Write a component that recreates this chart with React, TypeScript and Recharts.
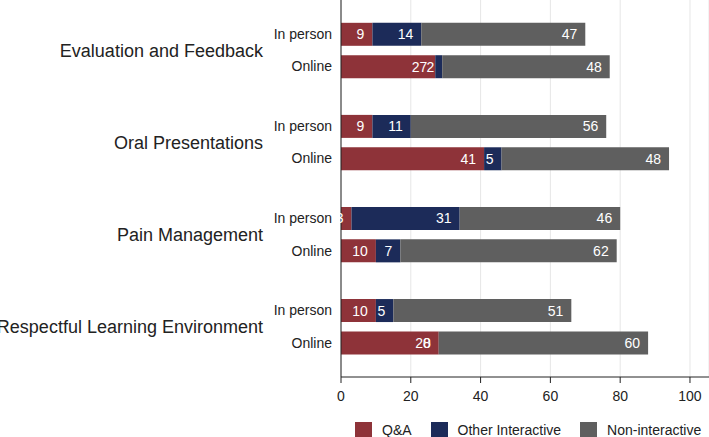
import React from "react";
import {
  BarChart,
  Bar,
  XAxis,
  YAxis,
  CartesianGrid,
  LabelList,
} from "recharts";

// categories and sub-rows
const topics = [
  "Evaluation and Feedback",
  "Oral Presentations",
  "Pain Management",
  "Respectful Learning Environment",
];
const modes = ["In person", "Online"];

// one value per row: topic x mode, in the order above
const qa = [9, 27, 9, 41, 3, 10, 10, 28];
const otherInteractive = [14, 2, 11, 5, 31, 7, 5, 0];
const nonInteractive = [47, 48, 56, 48, 46, 62, 51, 60];

const xTicks = [0, 20, 40, 60, 80, 100];

const seriesNames = ["Q&A", "Other Interactive", "Non-interactive"];
const COLORS = ["#8e3339", "#1c2b59", "#5f5f5f"];

// row layout along the category axis (in row units)
const FIRST_ROW = 1.05;
const GROUP_STEP = 2.843;
const Y_MAX = 11.64;

const rows = qa.map((v, i) => {
  const g = Math.floor(i / 2);
  const s = i % 2;
  return {
    pos: FIRST_ROW + g * GROUP_STEP + s,
    topic: topics[g],
    mode: modes[s],
    qa: v,
    other: otherInteractive[i],
    non: nonInteractive[i],
  };
});

const FONT = "'Liberation Sans', Arial, sans-serif";

const RowTick = (props: any) => {
  const { y, payload } = props;
  const row = rows.find((r) => Math.abs(r.pos - payload.value) < 1e-6);
  if (!row) return null;
  return (
    <g>
      <text
        x={332}
        y={y}
        textAnchor="end"
        dominantBaseline="central"
        fontSize={14}
        fill="#222"
        fontFamily={FONT}
      >
        {row.mode}
      </text>
      {row.mode === modes[0] && (
        <text
          x={263}
          y={y + 17}
          textAnchor="end"
          dominantBaseline="central"
          fontSize={18}
          fill="#222"
          fontFamily={FONT}
        >
          {row.topic}
        </text>
      )}
    </g>
  );
};

const App: React.FC = () => {
  return (
    <div
      style={{
        position: "absolute",
        left: 0,
        top: 0,
        width: 709,
        height: 437,
        fontFamily: FONT,
        overflow: "hidden",
      }}
    >
      <BarChart
        width={709}
        height={437}
        data={rows}
        layout="vertical"
        margin={{ top: 0, right: 0, bottom: 0, left: 0 }}
      >
        <CartesianGrid horizontal={false} stroke="#e6e6e6" />
        <XAxis
          type="number"
          domain={[0, 105.45]}
          ticks={xTicks}
          allowDataOverflow
          height={60}
          tickSize={6}
          tickMargin={8}
          stroke="#222"
          tick={{ fill: "#222", fontSize: 14, fontFamily: FONT }}
        />
        <YAxis
          type="number"
          dataKey="pos"
          domain={[0, Y_MAX]}
          ticks={rows.map((r) => r.pos)}
          width={341}
          tickLine={false}
          stroke="#222"
          tick={<RowTick />}
          interval={0}
        />
        <Bar dataKey="qa" stackId="a" fill={COLORS[0]} barSize={23} isAnimationActive={false}>
          <LabelList dataKey="qa" position="insideRight" offset={8} fill="#fff" fontSize={14} fontFamily={FONT} />
        </Bar>
        <Bar dataKey="other" stackId="a" fill={COLORS[1]} barSize={23} minPointSize={0.01} isAnimationActive={false}>
          <LabelList dataKey="other" position="insideRight" offset={8} fill="#fff" fontSize={14} fontFamily={FONT} />
        </Bar>
        <Bar dataKey="non" stackId="a" fill={COLORS[2]} barSize={23} isAnimationActive={false}>
          <LabelList dataKey="non" position="insideRight" offset={8} fill="#fff" fontSize={14} fontFamily={FONT} />
        </Bar>
      </BarChart>
      <div
        style={{
          position: "absolute",
          left: 355,
          top: 422,
          width: 360,
          display: "flex",
          alignItems: "center",
          fontSize: 14,
          color: "#222",
          lineHeight: "17px",
          whiteSpace: "nowrap",
        }}
      >
        {seriesNames.map((name, i) => (
          <div key={name} style={{ display: "flex", alignItems: "center", marginRight: 19 }}>
            <div style={{ width: 17, height: 17, background: COLORS[i], marginRight: 10 }} />
            <span>{name}</span>
          </div>
        ))}
      </div>
    </div>
  );
};

export default App;
